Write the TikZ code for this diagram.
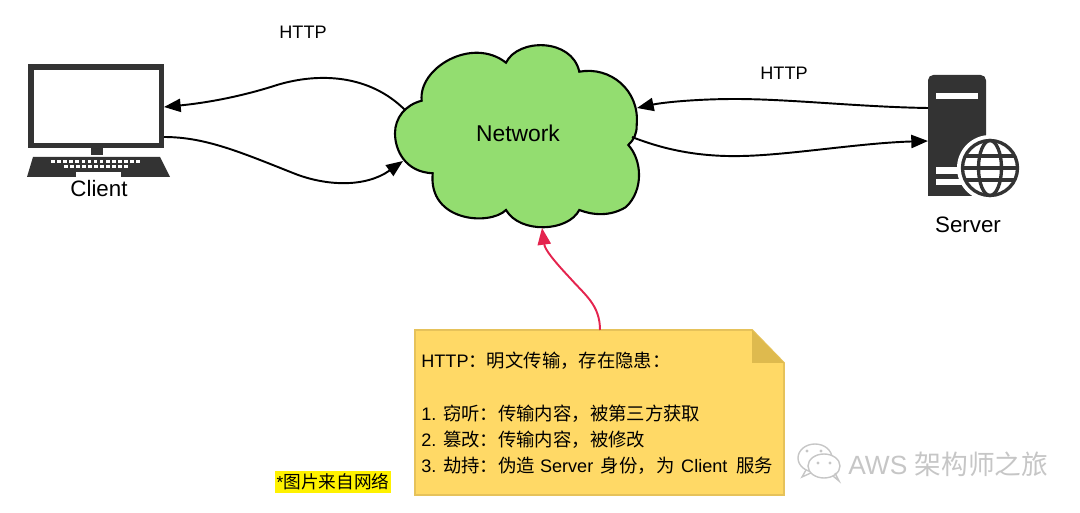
\documentclass[tikz,border=0pt]{standalone}
\usepackage{fontspec}
\setmainfont{Liberation Sans}
\newfontfamily\cjk[Scale=1.015]{Noto Sans CJK SC}
\usetikzlibrary{arrows.meta,positioning}
\definecolor{cloudgreen}{RGB}{147,221,112}
\definecolor{iconblack}{RGB}{51,51,51}
\definecolor{notefill}{RGB}{255,217,102}
\definecolor{noteline}{RGB}{230,194,90}
\definecolor{notefold}{RGB}{222,186,78}
\definecolor{alertred}{RGB}{228,36,78}
\definecolor{markgray}{RGB}{198,198,198}
\tikzset{
  link/.style={line width=1.1pt, black, -{Triangle[length=9.5pt,width=7.5pt]}},
  alertlink/.style={link, alertred},
  label/.style={inner sep=0pt, font=\fontsize{10.3pt}{12pt}\selectfont},
  bigl/.style={inner sep=0pt, font=\fontsize{12.7pt}{15pt}\selectfont},
  globeline/.style={iconblack, line width=1.9pt}
}
\begin{document}
\begin{tikzpicture}[x=0.02cm, y=-0.02cm]
    \useasboundingbox (0,0) rectangle (1080,513);

    % client
    \fill[iconblack] (28,64) rectangle (164,148);
    \fill[white] (34,70) rectangle (159,143);
    \fill[iconblack] (91,148) rectangle (103,155);
    \fill[iconblack] (33,157) -- (160,157) -- (170,177) -- (27,177) -- cycle;
    \foreach \k in {0,...,14} \fill[white] ({51+\k*6.1},160) rectangle +(3.6,3);
    \foreach \k in {0,...,10} \fill[white] ({64+\k*6},165) rectangle +(3.6,3);
    \fill[white] (76,172) rectangle (121,177);
    \node[bigl] (client) at (99,189) {Client};
    \coordinate (clientin) at (164,107);
    \coordinate (clientout) at (164,137);

    % network
    \draw[line width=1.2pt, fill=cloudgreen]
      (421.7,100.7) .. controls (418,68) and (472,36) .. (506,62.7)
      .. controls (518,38) and (572,38) .. (579.3,71.7)
      .. controls (610,66) and (640,90) .. (636.7,125)
      .. controls (637,133) and (634,140) .. (628.3,145)
      .. controls (642,160) and (644,190) .. (626,207)
      .. controls (610,217) and (592,215) .. (579.3,210)
      .. controls (568,232) and (520,234) .. (506,210)
      .. controls (490,226) and (428,222) .. (432.7,173.3)
      .. controls (405,172) and (395,150) .. (395,133.3)
      .. controls (395,118) and (405,105) .. (421.7,100.7) -- cycle;
    \node[bigl, font=\fontsize{13pt}{15pt}\selectfont] (network) at (518,133) {Network};
    \coordinate (netleftout) at (405,110);
    \coordinate (netleftin) at (403,161);
    \coordinate (netrightin) at (637,108);
    \coordinate (netrightout) at (632,137);
    \coordinate (netbottom) at (542,228);

    % server
    \fill[iconblack] (928,196) [rounded corners=3pt] -- (928,75) -- (986,75) [sharp corners] -- (986,196) -- cycle;
    \fill[white] (936,93) rectangle (978,99);
    \fill[white] (936,167) rectangle (975,174);
    \fill[white] (936,179) rectangle (975,185);
    \fill[white] (990,168) circle (33);
    \draw[globeline] (990,168) circle (27.5);
    \draw[globeline] (990,168) ellipse (11.5 and 27.5);
    \draw[globeline] (963,168) -- (1017,168);
    \draw[globeline] (965,156) -- (1015,156);
    \draw[globeline] (965,180) -- (1015,180);
    \node[bigl] (server) at (968,225) {Server};
    \coordinate (serverout) at (928,108);
    \coordinate (serverin) at (928,141);

    % connectors
    \draw[link] (netleftout) .. controls (370,75) and (320,72) .. (277,85) .. controls (240,97) and (205,103) .. (clientin);
    \draw[link] (clientout) .. controls (205,137) and (240,152) .. (293,173) .. controls (325,186) and (365,188) .. (netleftin);
    \draw[link] (serverout) .. controls (860,107) and (790,99) .. (735,99) .. controls (700,99) and (665,102) .. (netrightin);
    \draw[link] (netrightout) .. controls (665,150) and (700,157) .. (742,156) .. controls (790,155) and (860,143) .. (serverin);
    \node[label] (httpleft) at (303,32) {HTTP};
    \node[label] (httpright) at (784,73) {HTTP};

    % note
    \draw[line width=1.1pt, noteline, fill=notefill] (415,330) -- (752,330) -- (784,363) -- (784,495) -- (415,495) -- cycle;
    \fill[notefold] (752,330) -- (784,363) -- (752,363) -- cycle;
    \coordinate (notetop) at (600,330);
    \draw[alertlink] (notetop) .. controls (600,305) and (585,295) .. (570,278) .. controls (555,262) and (545,250) .. (netbottom);
    \node[label, anchor=north west] (notetext) at (421,352) {HTTP{\cjk：明文传输，存在隐患：}};
    \node[label, anchor=north west] (stepa) at (421,405) {1. {\cjk 窃听：传输内容，被第三方获取}};
    \node[label, anchor=north west] (stepb) at (421,431) {2. {\cjk 篡改：传输内容，被修改}};
    \node[label, anchor=north west] (stepc) at (421,457) {3. {\cjk 劫持：伪造} Server\hspace{1.5pt} {\cjk 身份，为}\hspace{1pt} Client\hspace{2pt} {\cjk 服务}};

    % source and mark
    \node[label, font=\fontsize{9.9pt}{12pt}\selectfont, fill=yellow, inner xsep=1pt, inner ysep=1.5pt] (source) at (333,482) {*{\cjk 图片来自网络}};
    \draw[markgray, line width=0.8pt, fill=white] (815,458) ellipse (17 and 14);
    \draw[markgray, line width=0.8pt] (806,470) -- (802,477) -- (813,472);
    \draw[markgray, line width=0.8pt, fill=white] (824,466) ellipse (16 and 12);
    \draw[markgray, line width=0.8pt] (833,476) -- (839,481) -- (835,473);
    \foreach \dotx/\doty in {807/451,821/451,818/463,830/463} \fill[markgray] (\dotx,\doty) circle (1.6);
    \node[inner sep=0pt, text=markgray, font=\fontsize{15pt}{18pt}\selectfont, anchor=west] (mark) at (848,464) {AWS {\cjk 架构师之旅}};
\end{tikzpicture}
\end{document}
